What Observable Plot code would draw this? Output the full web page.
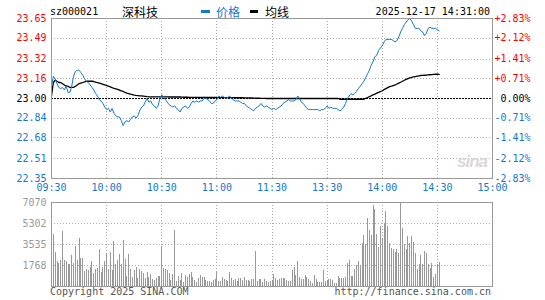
<!DOCTYPE html>
<html>
<head>
<meta charset="utf-8">
<script src="https://cdn.jsdelivr.net/npm/d3@7"></script>
<script src="https://cdn.jsdelivr.net/npm/@observablehq/plot@0.6"></script>
<style>
  body { margin: 0; background: #fff; }
  #wrap { position: relative; width: 545px; height: 300px; overflow: hidden; background: #fff; }
  .mono { font-family: "DejaVu Sans Mono", monospace; font-size: 10px; line-height: 12px; position: absolute; white-space: pre; }
  .cjk { font-family: "Noto Sans CJK SC", sans-serif; font-size: 12px; line-height: 14px; position: absolute; white-space: pre; }
  .sw { position: absolute; height: 3px; }
  #price, #vol { position: absolute; left: 0; }
  #price { top: 0; }
  #vol { top: 190px; }
</style>
</head>
<body>
<div id="wrap">
  <div id="price"></div>
  <div id="vol"></div>
  <div class="mono" style="left:50px;top:6px;color:#000">sz000021</div>
  <div class="cjk" style="left:122px;top:5px;color:#000">深科技</div>
  <div class="sw" style="left:201px;top:10px;width:9px;background:#1478cc"></div>
  <div class="cjk" style="left:216px;top:5px;color:#1478cc">价格</div>
  <div class="sw" style="left:250px;top:10px;width:8px;background:#000"></div>
  <div class="cjk" style="left:265px;top:5px;color:#000">均线</div>
  <div class="mono" style="right:55px;top:6px;color:#000">2025-12-17 14:31:00</div>
  <div style="position:absolute;left:457px;top:152px;font:italic bold 17px 'Liberation Sans',sans-serif;color:#dcd6d6;letter-spacing:-1px">sina</div>
  <div class="mono" style="left:50px;top:286px;color:#555">Copyright 2025 SINA.COM</div>
  <div class="mono" style="right:54px;top:286px;color:#555">http://finance.sina.com.cn</div>
</div>
<script>
// ---- data ----
const stockCode = "sz000021";
const prevClose = 23.00;
const timeTicks = [0, 30, 60, 90, 120, 150, 180, 210, 240];
const timeLabels = ["09:30", "10:00", "10:30", "11:00", "11:30", "13:30", "14:00", "14:30", "15:00"];
const priceTicks = [23.65, 23.49, 23.32, 23.16, 23.00, 22.84, 22.68, 22.51, 22.35];
const pctLabels = ["+2.83%", "+2.12%", "+1.41%", "+0.71%", "0.00%", "-0.71%", "-1.41%", "-2.12%", "-2.83%"];
const volTicks = [7070, 5302, 3535, 1768];
const cursorMinute = 190;

const price = [
  23.10, 23.18, 23.16, 23.12, 23.09, 23.08, 23.09, 23.07, 23.10, 23.05,
  23.05, 23.10, 23.18, 23.22, 23.23, 23.23, 23.21, 23.19, 23.16, 23.14,
  23.13, 23.11, 23.09, 23.07, 23.04, 23.02, 22.99, 22.98, 22.96, 22.93,
  22.91, 22.92, 22.89, 22.92, 22.88, 22.86, 22.85, 22.85, 22.82, 22.78,
  22.81, 22.82, 22.81, 22.83, 22.85, 22.86, 22.84, 22.86, 22.90, 22.93,
  22.94, 22.97, 23.00, 22.97, 22.98, 22.95, 22.94, 22.92, 22.94, 23.00,
  23.03, 23.01, 22.99, 22.97, 22.95, 22.94, 22.93, 22.94, 22.92, 22.91,
  22.89, 22.92, 22.93, 22.94, 22.92, 22.93, 22.96, 22.98, 22.97, 22.98,
  22.97, 22.98, 22.98, 23.00, 23.00, 22.99, 22.98, 22.96, 22.96, 22.98,
  22.99, 23.02, 23.01, 23.02, 23.01, 23.00, 23.01, 23.02, 23.00, 22.99,
  22.98, 22.98, 22.98, 22.97, 22.96, 22.96, 22.94, 22.93, 22.92, 22.91,
  22.90, 22.92, 22.93, 22.94, 22.96, 22.94, 22.93, 22.94, 22.93, 22.92,
  22.91, 22.92, 22.91, 22.92, 22.93, 22.94, 22.96, 22.97, 22.98, 22.99,
  22.98, 22.98, 22.98, 22.99, 23.02, 23.00, 22.97, 22.96, 22.94, 22.92,
  22.91, 22.91, 22.91, 22.91, 22.91, 22.91, 22.90, 22.91, 22.91, 22.92,
  22.94, 22.92, 22.93, 22.92, 22.92, 22.92, 22.91, 22.90, 22.91, 22.93,
  22.96, 23.00, 23.02, 23.04, 23.03, 23.04, 23.06, 23.08, 23.10, 23.12,
  23.14, 23.17, 23.20, 23.23, 23.27, 23.30, 23.34, 23.35, 23.39, 23.41,
  23.43, 23.46, 23.48, 23.48, 23.48, 23.48, 23.47, 23.46, 23.47, 23.50,
  23.54, 23.57, 23.60, 23.62, 23.64, 23.65, 23.63, 23.60, 23.57, 23.57,
  23.57, 23.55, 23.54, 23.51, 23.53, 23.57, 23.58, 23.57, 23.57, 23.57,
  23.56, 23.55
];

const avgPrice = [
  23.02, 23.13, 23.15, 23.14, 23.13, 23.13, 23.12, 23.11, 23.10, 23.10,
  23.09, 23.09, 23.09, 23.10, 23.11, 23.12, 23.125, 23.13, 23.135, 23.14,
  23.14, 23.14, 23.14, 23.138, 23.133, 23.128, 23.124, 23.12, 23.115, 23.11,
  23.105, 23.10, 23.094, 23.088, 23.083, 23.079, 23.074, 23.068, 23.062, 23.057,
  23.05, 23.044, 23.04, 23.035, 23.031, 23.027, 23.025, 23.024, 23.022, 23.021,
  23.019, 23.017, 23.015, 23.014, 23.014, 23.014, 23.014, 23.013, 23.013, 23.013,
  23.013, 23.013, 23.013, 23.013, 23.012, 23.012, 23.012, 23.012, 23.012, 23.012,
  23.012, 23.011, 23.010, 23.010, 23.010, 23.009, 23.009, 23.009, 23.009, 23.009,
  23.008, 23.008, 23.008, 23.008, 23.008, 23.008, 23.008, 23.008, 23.008, 23.008,
  23.007, 23.007, 23.007, 23.007, 23.007, 23.007, 23.007, 23.007, 23.007, 23.007,
  23.006, 23.006, 23.006, 23.006, 23.006, 23.005, 23.005, 23.005, 23.004, 23.004,
  23.003, 23.003, 23.002, 23.002, 23.001, 23.001, 23.001, 23.000, 23.000, 23.000,
  23.000, 23.000, 23.000, 23.000, 23.000, 23.000, 23.000, 23.000, 23.000, 23.000,
  23.000, 23.000, 23.000, 23.000, 23.000, 23.000, 23.000, 23.000, 23.000, 23.000,
  23.000, 23.000, 23.000, 23.000, 23.000, 23.000, 23.000, 23.000, 23.000, 23.000,
  23.000, 23.000, 23.000, 23.000, 23.000, 23.000, 23.000, 22.994, 22.994, 22.994,
  22.994, 22.994, 22.994, 22.994, 22.994, 22.994, 22.994, 22.994, 22.994, 22.994,
  22.994, 23.002, 23.008, 23.015, 23.022, 23.030, 23.036, 23.043, 23.050, 23.056,
  23.063, 23.072, 23.080, 23.088, 23.096, 23.100, 23.105, 23.110, 23.118, 23.125,
  23.132, 23.140, 23.148, 23.155, 23.162, 23.168, 23.172, 23.175, 23.178, 23.181,
  23.184, 23.187, 23.188, 23.189, 23.190, 23.192, 23.193, 23.194, 23.196, 23.197,
  23.197, 23.196
];

const volume = [
  900, 4400, 2860, 2080, 1940, 2160, 4630, 2160, 2100, 1880,
  1880, 2640, 1950, 3370, 2160, 4040, 2360, 2360, 1260, 1430,
  1370, 1600, 2080, 1090, 1400, 1500, 3090, 1180, 1600, 2080,
  2780, 1460, 2860, 1320, 3790, 1880, 2220, 2670, 1880, 3870,
  2270, 810, 2670, 1400, 760, 1320, 1600, 700, 1460, 1260,
  1090, 700, 1180, 760, 1040, 560, 500, 700, 840, 810,
  3370, 1490, 1460, 1320, 1090, 480, 1010, 4690, 420, 810,
  530, 1070, 340, 900, 730, 980, 1150, 730, 480, 340,
  670, 900, 730, 730, 480, 420, 390, 360, 480, 560,
  1180, 420, 420, 760, 560, 530, 390, 1150, 670, 480,
  560, 420, 700, 700, 530, 760, 480, 530, 420, 560,
  560, 2920, 420, 560, 560, 340, 590, 450, 340, 420,
  480, 980, 670, 530, 560, 700, 650, 700, 530, 390,
  390, 1320, 1600, 900, 2130, 730, 620, 620, 950, 760,
  590, 390, 250, 900, 560, 340, 340, 340, 1320, 420,
  530, 620, 590, 480, 280, 220, 870, 700, 700, 700,
  760, 1910, 2220, 810, 810, 1400, 1770, 2080, 1800, 3620,
  4320, 3560, 5750, 4690, 4320, 6790, 6450, 4410, 3280, 5020,
  4070, 5330, 6290, 5020, 3620, 3230, 3110, 2890, 3090, 2810,
  2700, 4850, 3560, 3140, 4180, 3620, 4180, 3680, 2810, 1430,
  1820, 2580, 1880, 2920, 2810, 1880, 1520, 1940, 760, 980,
  1820, 2020
];

// ---- styling ----
const BLUE = "#1478cc";
const RED = "#ff0000";
const GRID = "#aaaaaa";
const FRAME = "#999999";
const font = {fontFamily: "'DejaVu Sans Mono', monospace", fontSize: "10px", background: "transparent", overflow: "visible"};

const priceRows = price.map((v, i) => ({m: i, v}));
const avgRows = avgPrice.map((v, i) => ({m: i, v}));
const volRows = volume.map((v, i) => ({m: i, v}));
const tickColor = d => d > prevClose ? RED : d < prevClose ? BLUE : "#000";

const priceChart = Plot.plot({
  width: 545, height: 196,
  marginLeft: 51, marginRight: 53, marginTop: 18, marginBottom: 18,
  x: {domain: [0, 240], axis: null},
  y: {domain: [22.35, 23.65], axis: null},
  color: {type: "identity"},
  style: font,
  marks: [
    Plot.ruleY(priceTicks.slice(1, -1).filter(d => d !== prevClose), {stroke: GRID, strokeDasharray: "1,2", shapeRendering: "crispEdges"}),
    Plot.ruleX(timeTicks.slice(1, -1), {stroke: GRID, strokeDasharray: "1,2", shapeRendering: "crispEdges"}),
    Plot.ruleY([prevClose], {stroke: "#000", strokeDasharray: "2,1", shapeRendering: "crispEdges"}),
    Plot.line(avgRows, {x: "m", y: "v", stroke: "#000", strokeWidth: 1.3}),
    Plot.line(priceRows, {x: "m", y: "v", stroke: BLUE, strokeWidth: 1}),
    Plot.frame({stroke: FRAME, shapeRendering: "crispEdges"}),
    Plot.text(priceTicks, {y: d => d, frameAnchor: "left", dx: -5, textAnchor: "end", text: d => d.toFixed(2), fill: tickColor}),
    Plot.text(priceTicks, {y: d => d, frameAnchor: "right", dx: 38, textAnchor: "end", text: (d, i) => pctLabels[i], fill: tickColor}),
    Plot.text(timeTicks, {x: d => d, frameAnchor: "bottom", dy: 12, text: (d, i) => timeLabels[i], fill: BLUE})
  ]
});
document.getElementById("price").appendChild(priceChart);

const volChart = Plot.plot({
  width: 545, height: 110,
  marginLeft: 51, marginRight: 53, marginTop: 12, marginBottom: 14,
  x: {domain: [0, 240], axis: null},
  y: {domain: [0, 7070], axis: null},
  style: font,
  marks: [
    Plot.ruleY(volTicks.slice(1), {stroke: GRID, strokeDasharray: "1,2", shapeRendering: "crispEdges"}),
    Plot.ruleX(timeTicks.slice(1, -1), {stroke: GRID, strokeDasharray: "1,2", shapeRendering: "crispEdges"}),
    Plot.ruleX(volRows, {x: "m", y1: 0, y2: "v", stroke: "#999", strokeWidth: 1, shapeRendering: "crispEdges"}),
    Plot.ruleX([cursorMinute], {stroke: FRAME, shapeRendering: "crispEdges"}),
    Plot.frame({stroke: FRAME, shapeRendering: "crispEdges"}),
    Plot.text(volTicks, {y: d => d, frameAnchor: "left", dx: -5, textAnchor: "end", text: d => String(d), fill: "#999"})
  ]
});
document.getElementById("vol").appendChild(volChart);
</script>
</body>
</html>
